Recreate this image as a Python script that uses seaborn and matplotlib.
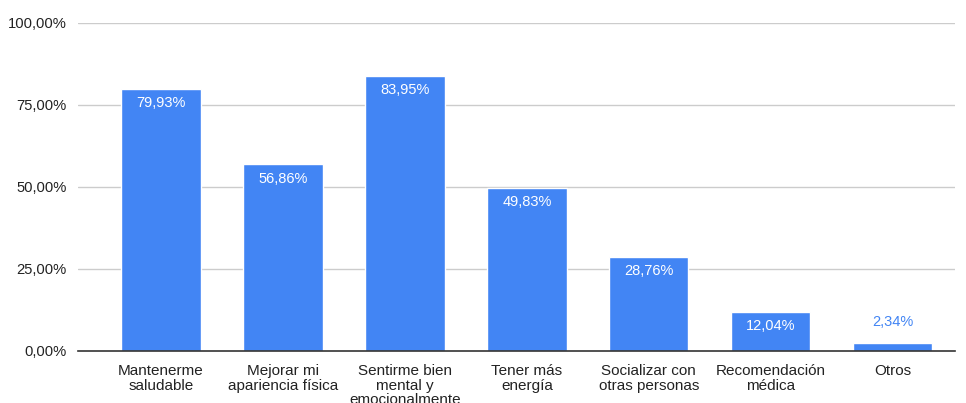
import matplotlib
matplotlib.use("Agg")
import matplotlib.pyplot as plt
import seaborn as sns
import pandas as pd

categorias = [
    "Mantenerme\nsaludable",
    "Mejorar mi\napariencia física",
    "Sentirme bien\nmental y\nemocionalmente",
    "Tener más\nenergía",
    "Socializar con\notras personas",
    "Recomendación\nmédica",
    "Otros",
]
porcentajes = [79.93, 56.86, 83.95, 49.83, 28.76, 12.04, 2.34]
yticks = [0, 25, 50, 75, 100]

def fmt(v):
    return f"{v:.2f}".replace(".", ",") + "%"

sns.set_theme(style="white")
plt.rcParams["font.family"] = ["Liberation Sans", "DejaVu Sans"]

df = pd.DataFrame({"motivo": categorias, "pct": porcentajes})

fig = plt.figure(figsize=(9.66, 4.03), dpi=100)
ax = fig.add_axes([78 / 966, 1 - 351 / 403, (955 - 78) / 966, (351 - 23) / 403])

azul = "#4285F4"
sns.barplot(data=df, x="motivo", y="pct", color=azul, saturation=1,
            width=0.65, ax=ax, zorder=3)

ax.set_ylim(0, 100)
ax.set_xlim(-0.68, 6.51)
ax.set_yticks(yticks)
ax.set_yticklabels([fmt(v) for v in yticks], fontsize=10.6, color="#222222")
ax.tick_params(axis="y", length=0, pad=8)
ax.tick_params(axis="x", length=0, pad=9.5, labelsize=11, colors="#222222")
for lbl in ax.get_xticklabels():
    lbl.set_linespacing(1.03)
ax.set_xlabel("")
ax.set_ylabel("")

for y in yticks[1:]:
    ax.axhline(y, color="#cccccc", lw=1, zorder=1)
for s in ["top", "right", "left"]:
    ax.spines[s].set_visible(False)
ax.spines["bottom"].set_color("#333333")
ax.spines["bottom"].set_linewidth(1.2)
ax.spines["bottom"].set_zorder(4)

for i, v in enumerate(porcentajes):
    if v > 8:
        ax.annotate(fmt(v), (i, v), xytext=(0, -5.5), textcoords="offset points",
                    ha="center", va="top", color="white", fontsize=10.5,
                    fontweight="medium")
    else:
        ax.annotate(fmt(v), (i, v), xytext=(0, 10), textcoords="offset points",
                    ha="center", va="bottom", color=azul, fontsize=10.5,
                    fontweight="medium")

fig.savefig("out.png", dpi=100)
